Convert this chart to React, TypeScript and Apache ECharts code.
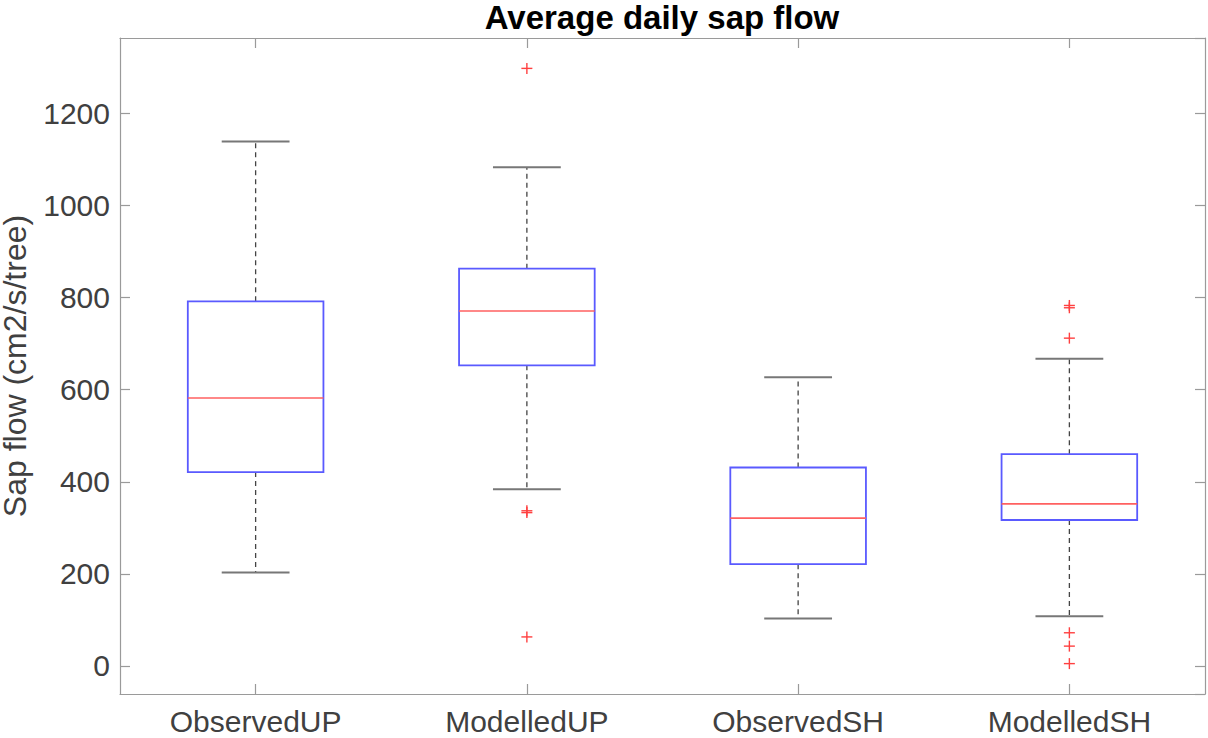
import React, { useEffect, useRef } from "react";
import * as echarts from "echarts";

const categories = ["ObservedUP", "ModelledUP", "ObservedSH", "ModelledSH"];
const whiskerLow = [203, 384, 103, 108];
const q1 = [421, 653, 221, 317];
const median = [582, 771, 321, 352];
const q3 = [792, 863, 431, 460];
const whiskerHigh = [1139, 1083, 627, 667];
const outlierCats = [1, 1, 1, 1, 3, 3, 3, 3, 3, 3];
const outlierValues = [1298, 337, 333, 63, 783, 778, 712, 72, 43, 5];

const Y_MIN = -61;
const Y_MAX = 1364;

export default function App() {
  const ref = useRef<HTMLDivElement>(null);
  useEffect(() => {
    if (!ref.current) return;
    const chart = echarts.init(ref.current, undefined, { renderer: "svg" });
    const boxData = categories.map((_, i) => [i, whiskerLow[i], q1[i], median[i], q3[i], whiskerHigh[i]]);
    const outData = outlierValues.map((v, i) => [outlierCats[i], v]);
    const axisGray = "#9a9a9a";
    const labelColor = "#404040";
    const font = "Liberation Sans, Arial, Helvetica, sans-serif";
    const option: any = {
      animation: false,
      backgroundColor: "#ffffff",
      grid: { left: 120, right: 3, top: 38, bottom: 44, containLabel: false, outerBoundsMode: "none" },
      graphic: [
        {
          type: "text",
          x: 662,
          y: 1,
          style: {
            text: "Average daily sap flow",
            textAlign: "center",
            textVerticalAlign: "top",
            fontFamily: font,
            fontWeight: "bold",
            fontSize: 33,
            fill: "#000000",
          },
        },
      ],
      xAxis: [
        {
          type: "category",
          data: categories,
          position: "bottom",
          boundaryGap: true,
          axisLine: { show: true, onZero: false, lineStyle: { color: axisGray, width: 1.2 } },
          axisTick: { show: true, inside: true, alignWithLabel: true, length: 10, lineStyle: { color: axisGray, width: 1.2 } },
          axisLabel: { color: labelColor, fontSize: 30, fontFamily: font, margin: 12 },
          splitLine: { show: false },
        },
        {
          type: "category",
          data: categories,
          position: "top",
          boundaryGap: true,
          axisLine: { show: true, onZero: false, lineStyle: { color: axisGray, width: 1.2 } },
          axisTick: { show: true, inside: true, alignWithLabel: true, length: 10, lineStyle: { color: axisGray, width: 1.2 } },
          axisLabel: { show: false },
          splitLine: { show: false },
        },
      ],
      yAxis: [
        {
          type: "value",
          min: Y_MIN,
          max: Y_MAX,
          splitNumber: 7,
          position: "left",
          name: "Sap flow (cm2/s/tree)",
          nameLocation: "middle",
          nameGap: 78,
          nameTextStyle: { color: labelColor, fontSize: 32, lineHeight: 34, fontFamily: font },
          axisLine: { show: true, onZero: false, lineStyle: { color: axisGray, width: 1.2 } },
          axisTick: { show: true, inside: true, length: 10, lineStyle: { color: axisGray, width: 1.2 } },
          axisLabel: {
            color: labelColor,
            fontSize: 30,
            fontFamily: font,
            margin: 10,
            showMinLabel: false,
            showMaxLabel: false,
            formatter: (v: number) => String(v),
          },
          splitLine: { show: false },
        },
        {
          type: "value",
          min: Y_MIN,
          max: Y_MAX,
          splitNumber: 7,
          position: "right",
          axisLine: { show: true, onZero: false, lineStyle: { color: axisGray, width: 1.2 } },
          axisTick: { show: true, inside: true, length: 10, lineStyle: { color: axisGray, width: 1.2 } },
          axisLabel: { show: false },
          splitLine: { show: false },
        },
      ],
      series: [
        {
          type: "custom",
          name: "boxes",
          xAxisIndex: 0,
          yAxisIndex: 0,
          data: boxData,
          encode: { x: 0, y: [1, 2, 3, 4, 5] },
          renderItem: (params: any, api: any) => {
            const c = api.value(0);
            const pLo = api.coord([c, api.value(1)]);
            const pQ1 = api.coord([c, api.value(2)]);
            const pMed = api.coord([c, api.value(3)]);
            const pQ3 = api.coord([c, api.value(4)]);
            const pHi = api.coord([c, api.value(5)]);
            const band = api.size([1, 0])[0];
            const bw = band * 0.5;
            const cw = band * 0.25;
            const x = pMed[0];
            const whiskerStyle = { stroke: "#444444", lineWidth: 1.3, lineDash: [5, 4] };
            const capStyle = { stroke: "#777777", lineWidth: 2 };
            return {
              type: "group",
              children: [
                { type: "line", shape: { x1: x, y1: pQ3[1], x2: x, y2: pHi[1] }, style: whiskerStyle },
                { type: "line", shape: { x1: x, y1: pQ1[1], x2: x, y2: pLo[1] }, style: whiskerStyle },
                { type: "line", shape: { x1: x - cw / 2, y1: pHi[1], x2: x + cw / 2, y2: pHi[1] }, style: capStyle },
                { type: "line", shape: { x1: x - cw / 2, y1: pLo[1], x2: x + cw / 2, y2: pLo[1] }, style: capStyle },
                {
                  type: "rect",
                  shape: { x: x - bw / 2, y: pQ3[1], width: bw, height: pQ1[1] - pQ3[1] },
                  style: { fill: "none", stroke: "#5a5aff", lineWidth: 1.8 },
                },
                {
                  type: "line",
                  shape: { x1: x - bw / 2, y1: pMed[1], x2: x + bw / 2, y2: pMed[1] },
                  style: { stroke: "#ff6060", lineWidth: 1.6 },
                },
              ],
            };
          },
        },
        {
          type: "custom",
          name: "outliers",
          xAxisIndex: 0,
          yAxisIndex: 0,
          data: outData,
          encode: { x: 0, y: 1 },
          renderItem: (params: any, api: any) => {
            const p = api.coord([api.value(0), api.value(1)]);
            const h = 5.5;
            const st = { stroke: "#ff4040", lineWidth: 1.4 };
            return {
              type: "group",
              children: [
                { type: "line", shape: { x1: p[0] - h, y1: p[1], x2: p[0] + h, y2: p[1] }, style: st },
                { type: "line", shape: { x1: p[0], y1: p[1] - h, x2: p[0], y2: p[1] + h }, style: st },
              ],
            };
          },
        },
      ],
    };
    chart.setOption(option);
    return () => chart.dispose();
  }, []);
  return (
    <div
      ref={ref}
      style={{ position: "absolute", left: 0, top: 0, width: 1208, height: 738, background: "#fff" }}
    />
  );
}
